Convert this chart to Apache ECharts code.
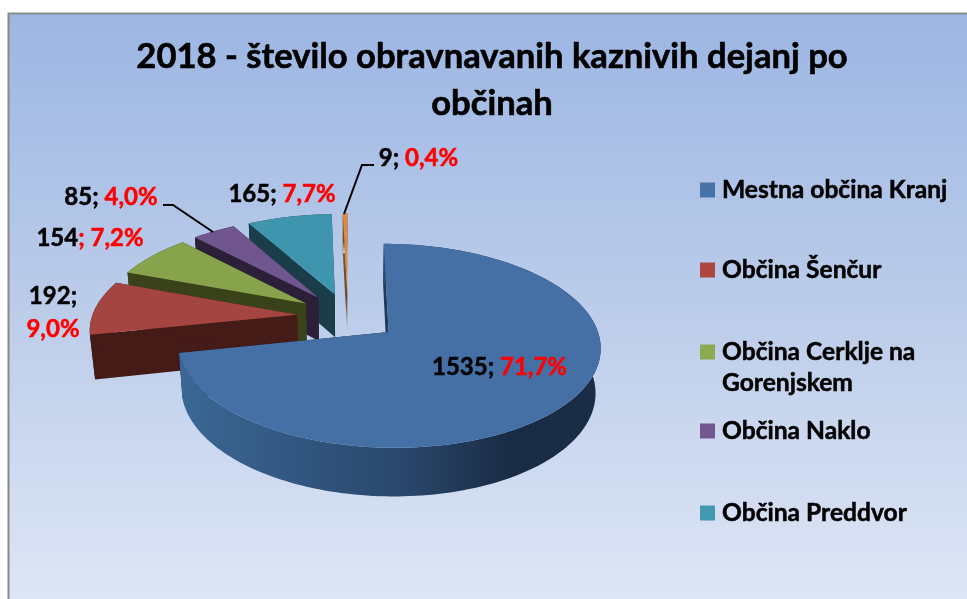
<!DOCTYPE html>
<html><head><meta charset="utf-8">
<style>html,body{margin:0;padding:0;background:#fff}#c{width:967px;height:599px}</style>
<script src="https://cdn.jsdelivr.net/npm/echarts@6/dist/echarts.min.js"></script>
</head><body><div id="c"></div>
<script>
// ---- data ----
const categories = ['Mestna občina Kranj','Občina Šenčur','Občina Cerklje na Gorenjskem','Občina Naklo','Občina Preddvor','Občina Jezersko'];
const values = [1535,192,154,85,165,9];
const percents = ['71,7%','9,0%','7,2%','4,0%','7,7%','0,4%'];
const legendNames = categories.slice(0,5);

// ---- styles ----
const topColors  = ['#4570a6','#a54541','#87a34c','#70558e','#4095ae','#dc8a3e'];
const wallColors = ['#1f3a5a','#451b18','#3a4219','#2c2038','#1a3d4a','#6b4a2a'];
const legendColors = ['#4674a8','#ab4642','#8ca94f','#73568f','#4198af'];
const FONT = 'Lato, "Open Sans", sans-serif';
const LABEL_SIZE = 24;

// ---- projection of the tilted, exploded pie ----
const P = {ox:348, oy:316.6, A:205, B:96, k:0.132, e:0.25, D:44.8, m:0.02};
function project(u,v,z){
  const den = 1 - P.k*v + P.m*z;
  return [P.ox + P.A*u/den, P.oy + (P.B*v + P.D*z)/den];
}
const total = values.reduce((a,b)=>a+b,0);
const angles = []; let acc = 0;
values.forEach(v=>{ const s=acc/total*360; acc+=v; angles.push([s,acc/total*360]); });
const rad = d=>d*Math.PI/180;
function sliceGeom(i){
  const [a0,a1]=angles[i], b=rad((a0+a1)/2);
  const cu=P.e*Math.sin(b), cv=-P.e*Math.cos(b);
  const pt=(a,r)=>[cu+r*Math.sin(rad(a)), cv-r*Math.cos(rad(a))];
  const arc=z=>{ const out=[]; const n=Math.max(2,Math.ceil((a1-a0)/1.5));
    for(let j=0;j<=n;j++){ const a=a0+(a1-a0)*j/n, q=pt(a,1); out.push(project(q[0],q[1],z)); } return out; };
  const apex=z=>project(cu,cv,z);
  const edge=a=>{ const q=pt(a,1); return [project(cu,cv,0),project(q[0],q[1],0),project(q[0],q[1],1),project(cu,cv,1)]; };
  return {arc,apex,edge,a0,a1};
}

// label layout: centre x, centre y, rich text
const labelLayout = [
  {x:499.5,y:367,black:values[0]+'; ',red:percents[0]},
  {x:53,y:312.5,black:values[1]+';\n',red:percents[1]},
  {x:90,y:238,black:String(values[2]),red:'; '+percents[2]},
  {x:111,y:197,black:values[3]+'; ',red:percents[3]},
  {x:282,y:194,black:values[4]+'; ',red:percents[4]},
  {x:418.5,y:158,black:values[5]+'; ',red:percents[5]}
];
const leaders = [null,null,null,[[213,232],[173,205],[163,205]],null,[[344,214],[362,165],[374,165]]];

function renderSlice(i){
  const g=sliceGeom(i), kids=[];
  const wall = i===5
    ? {type:'linear',x:0,y:0,x2:0,y2:1,colorStops:[{offset:0,color:'#8a5a2c'},{offset:0.7,color:'#6b4a2a'},{offset:1,color:'#c9d3ea'}]}
    : wallColors[i];
  kids.push({type:'polygon',shape:{points:g.edge(g.a0)},style:{fill:wall}});
  kids.push({type:'polygon',shape:{points:g.edge(g.a1)},style:{fill:i===0?'#16263c':wall}});
  const outerFill = i===0
    ? {type:'linear',x:0,y:0,x2:1,y2:0,colorStops:[{offset:0,color:'#3b6895'},{offset:0.3,color:'#31557e'},{offset:0.55,color:'#28466a'},{offset:0.78,color:'#1a2c45'},{offset:1,color:'#1a2d46'}]}
    : wall;
  kids.push({type:'polygon',shape:{points:g.arc(0).concat(g.arc(1).reverse())},style:{fill:outerFill}});
  kids.push({type:'polygon',shape:{points:[g.apex(0)].concat(g.arc(0))},style:{fill:topColors[i]}});
  if(leaders[i]) kids.push({type:'polyline',shape:{points:leaders[i]},style:{fill:null,stroke:'#000',lineWidth:2}});
  const l=labelLayout[i];
  const brk=l.black.endsWith('\n');
  const rs=(fill)=>({fill,fontFamily:FONT,fontWeight:'bold',fontSize:LABEL_SIZE,lineHeight:33,stroke:fill,lineWidth:0.5});
  kids.push({type:'text',style:{
    x:l.x,y:l.y,align:'center',verticalAlign:'middle',
    text:'{k|'+l.black.trimEnd()+(l.black.endsWith(' ')&&!brk?' ':'')+'}'+(brk?'\n':'')+'{r|'+l.red+'}',
    rich:{k:rs('#000'),r:rs('#ff0000')}
  }});
  return {type:'group',children:kids};
}

// painter's order: back slices first
const drawOrder=[5,4,3,2,1,0];
const series=drawOrder.map(i=>({
  type:'custom',name:categories[i],coordinateSystem:'none',silent:true,animation:false,
  itemStyle:{color:legendColors[i]||topColors[i]},
  data:[[values[i]]],
  renderItem:()=>renderSlice(i)
}));

const legendCentres=[190,270,352,431,513];
const legends=legendNames.map((n,i)=>{
  const two=n==='Občina Cerklje na Gorenjskem';
  return {
    data:[n],left:700,top:legendCentres[i]-(two?46.5:15.5),orient:'vertical',padding:0,
    icon:'rect',itemWidth:15,itemHeight:15,itemGap:0,selectedMode:false,
    textStyle:{fontFamily:FONT,fontWeight:'bold',fontSize:24.6,color:'#000',lineHeight:31,padding:[0,0,0,2],textBorderColor:'#000',textBorderWidth:0.5},
    formatter:two?' \nObčina Cerklje na\nGorenjskem':undefined
  };
});

const chart=echarts.init(document.getElementById('c'),null,{renderer:'canvas'});
chart.setOption({
  animation:false,
  backgroundColor:'#fff',
  title:{text:'2018 - število obravnavanih kaznivih dejanj po\nobčinah',left:492,top:33,textAlign:'center',padding:0,
    textStyle:{fontFamily:FONT,fontWeight:'bold',fontSize:34.6,color:'#000',lineHeight:47,textBorderColor:'#000',textBorderWidth:0.6}},
  legend:legends,
  graphic:[{type:'rect',z:-1,silent:true,shape:{x:8.5,y:13.5,width:970,height:600},
    style:{stroke:'#8a8a8a',lineWidth:2,fill:{type:'linear',x:0,y:0,x2:0,y2:1,colorStops:[{offset:0,color:'#9cb6e3'},{offset:0.5,color:'#bccdea'},{offset:1,color:'#e0e7f6'}]}}}],
  series
});
</script></body></html>
